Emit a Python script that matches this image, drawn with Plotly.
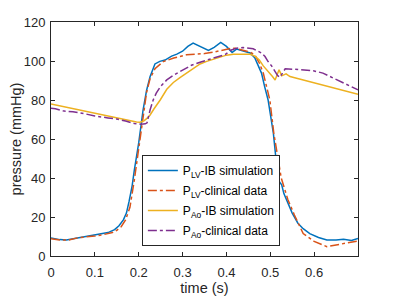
import plotly.graph_objects as go

# P_LV - IB simulation
t_lv_sim = [0, 0.02, 0.035, 0.05, 0.07, 0.09, 0.11, 0.13, 0.145, 0.155, 0.165, 0.172, 0.178, 0.185,
            0.19, 0.2, 0.21, 0.218, 0.226, 0.237, 0.248, 0.26, 0.275, 0.287, 0.3, 0.312, 0.324, 0.335,
            0.348, 0.359, 0.372, 0.387, 0.4, 0.413, 0.423, 0.44, 0.454, 0.465, 0.48, 0.487, 0.495,
            0.507, 0.512, 0.516, 0.521, 0.526, 0.531, 0.54, 0.55, 0.563, 0.575, 0.59, 0.61, 0.629,
            0.65, 0.667, 0.685, 0.7]
p_lv_sim = [9.3, 8.4, 8.2, 8.8, 9.8, 10.3, 11.2, 12.0, 13.5, 15.5, 18.5, 22, 28, 36,
            44, 58, 75, 85, 92, 98.5, 99.8, 100.5, 102.5, 103.5, 105, 107.5, 109.2, 108,
            106.3, 105.4, 107, 109.5, 107.5, 104.4, 106.1, 105, 104.1, 101.5, 93.8, 87, 80,
            63, 52, 43, 38, 36.5, 32, 27, 22, 16.8, 14, 11.5, 9.5, 8.2,
            8.2, 8.6, 8.0, 9.0]

# P_LV - clinical data
t_lv_cli = [0, 0.02, 0.04, 0.06, 0.08, 0.1, 0.12, 0.14, 0.15, 0.16, 0.17, 0.18, 0.19, 0.2, 0.21,
            0.218, 0.226, 0.237, 0.256, 0.28, 0.309, 0.33, 0.35, 0.37, 0.39, 0.41, 0.42, 0.44,
            0.454, 0.465, 0.475, 0.484, 0.491, 0.499, 0.508, 0.515, 0.525, 0.54, 0.555, 0.575,
            0.6, 0.629, 0.65, 0.675, 0.7]
p_lv_cli = [8.8, 8.2, 8.2, 9.3, 9.8, 10.2, 11.0, 12.0, 13.2, 15.0, 18.5, 25, 39, 55, 72,
            84, 91, 96, 99.7, 101.5, 103.2, 103.5, 103.8, 104.5, 105.5, 106.5, 106.5, 105.5,
            104.6, 103, 99, 93.8, 88, 80, 63, 54, 40, 29, 21, 11.5,
            7.5, 4.8, 5.5, 6.7, 7.7]

# P_Ao - IB simulation
t_ao_sim = [0, 0.05, 0.1, 0.15, 0.18, 0.195, 0.203, 0.212, 0.22, 0.226, 0.235, 0.249, 0.264,
            0.279, 0.294, 0.309, 0.325, 0.34, 0.355, 0.37, 0.385, 0.4, 0.416, 0.44, 0.454, 0.465,
            0.475, 0.484, 0.492, 0.499, 0.505, 0.511, 0.515, 0.52, 0.526, 0.531, 0.536, 0.541,
            0.545, 0.56, 0.6, 0.65, 0.7]
p_ao_sim = [78, 75.6, 73.2, 70.8, 69.3, 68.7, 68.6, 69.3, 70.8, 72.3, 75.5, 80, 85.5,
            89, 91.5, 93.8, 96.5, 98.5, 99.8, 100.8, 102, 103, 103.5, 103.6, 103.5, 102.5,
            100.5, 97.5, 95.5, 94, 92, 90.3, 92.5, 95.5, 92.4, 93, 93.4, 92.6,
            92, 91.2, 88.8, 85.8, 82.9]

# P_Ao - clinical data
t_ao_cli = [0, 0.01, 0.03, 0.05, 0.08, 0.1, 0.13, 0.15, 0.17, 0.19, 0.205, 0.215, 0.219, 0.226,
            0.233, 0.24, 0.25, 0.264, 0.28, 0.302, 0.32, 0.34, 0.37, 0.397, 0.41, 0.423, 0.438,
            0.461, 0.48, 0.488, 0.495, 0.503, 0.511, 0.517, 0.522, 0.528, 0.534, 0.552, 0.568,
            0.598, 0.62, 0.644, 0.66, 0.674, 0.688, 0.7]
p_ao_cli = [75.8, 75.5, 74.3, 74, 72.8, 71.8, 70.8, 70.2, 69.2, 68, 67.6, 67.8, 68.3, 75,
            80, 83.5, 87, 90.3, 92.8, 95.5, 97.8, 99.4, 101.3, 103.3, 105.5, 106.6, 106.9,
            106.3, 104.1, 102.3, 99.7, 97.5, 94.6, 92.5, 91.7, 94, 96, 95.8, 95.5,
            95, 93.8, 91.2, 89.5, 87.8, 86.5, 85.2]

x_ticks = [0, 0.1, 0.2, 0.3, 0.4, 0.5, 0.6]
x_tick_labels = ["0", "0.1", "0.2", "0.3", "0.4", "0.5", "0.6"]
y_ticks = [0, 20, 40, 60, 80, 100, 120]

names = ["P<sub>LV</sub>-IB simulation", "P<sub>LV</sub>-clinical data",
         "P<sub>Ao</sub>-IB simulation", "P<sub>Ao</sub>-clinical data"]
colors = ["#0072BD", "#D95319", "#EDB120", "#7E2F8E"]
dashes = ["solid", "dashdot", "solid", "dashdot"]
series = [(t_lv_sim, p_lv_sim), (t_lv_cli, p_lv_cli), (t_ao_sim, p_ao_sim), (t_ao_cli, p_ao_cli)]

fig = go.Figure()
for i, ((tx, py), nm, c, d) in enumerate(zip(series, names, colors, dashes)):
    fig.add_trace(go.Scatter(x=tx, y=py, mode="lines", name=nm, legendgroup=f"g{i}",
                             line=dict(color=c, width=1.5, dash=d)))

axis_common = dict(showline=True, linecolor="#262626", linewidth=1, mirror="ticks",
                   ticks="inside", ticklen=4, tickcolor="#262626", showgrid=False,
                   zeroline=False, automargin=False,
                   tickfont=dict(size=13, color="#262626"))

# page body adds 8px offset; margins compensate so the plot area sits at
# x 51..358, y 22..256 in the window
fig.update_layout(
    width=395, height=296,
    margin=dict(l=43, r=45, t=14, b=48),
    paper_bgcolor="white", plot_bgcolor="white",
    font=dict(family="Liberation Sans, Arial, sans-serif", color="#262626"),
    xaxis=dict(range=[0, 0.7], tickvals=x_ticks, ticktext=x_tick_labels, ticklabelstandoff=4,
               title=dict(text="time (s)", font=dict(size=14.5), standoff=4), **axis_common),
    yaxis=dict(range=[0, 120], tickvals=y_ticks, ticklabelstandoff=2,
               title=dict(text="pressure (mmHg)", font=dict(size=14.5), standoff=6), **axis_common),
    showlegend=True,
    legend=dict(x=0.296, y=0.432, xanchor="left", yanchor="top",
                bgcolor="white", bordercolor="#262626", borderwidth=1,
                font=dict(size=12, color="#000000"), tracegroupgap=1,
                itemwidth=30),
)

fig.write_html("out.html")
